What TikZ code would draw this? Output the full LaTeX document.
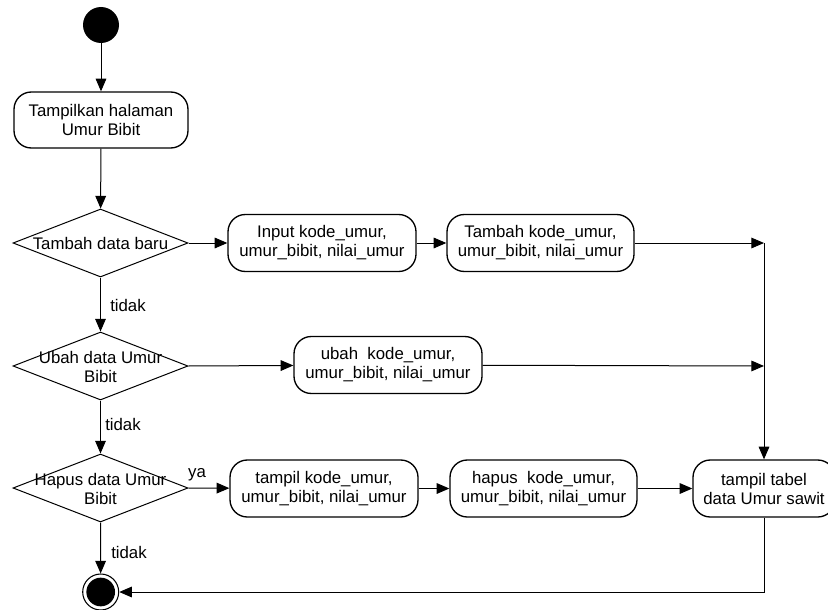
\documentclass[tikz,border=0pt]{standalone}
\usepackage{fontspec}
\setmainfont{Liberation Sans}
\usetikzlibrary{shapes.geometric,arrows.meta}
\begin{document}
\begin{tikzpicture}[x=0.75pt,y=-0.75pt,
  every node/.style={font=\fontsize{12.6pt}{14.25pt}\selectfont},
  actbox/.style={draw,line width=1pt,rounded corners=13pt,align=center,inner sep=0pt,minimum height=42.75pt},
  decision/.style={draw,diamond,line width=0.75pt,inner sep=0pt,minimum width=131.25pt,minimum height=51pt},
  arr/.style={line width=0.75pt,-{Triangle[length=9.5pt,width=8pt]}},
  lbl/.style={inner sep=0pt,align=center}]
\useasboundingbox (0,0) rectangle (828,610);
% start
\node[circle,fill=black,minimum size=27pt,inner sep=0pt] (s) at (101,25) {};
\node[actbox,minimum width=130.5pt,minimum height=42pt] (t) at (101,120) {Tampilkan halaman\\Umur Bibit};
% decisions
\node[decision] (d1) at (100.5,243) {};
\node[lbl] (d1t) at (100.5,243) {Tambah data baru};
\node[decision] (d2) at (100.5,366) {};
\node[lbl] (d2t) at (100.5,367) {Ubah data Umur\\Bibit};
\node[decision] (d3) at (100.5,488) {};
\node[lbl] (d3t) at (100.5,489) {Hapus data Umur\\Bibit};
% row 1
\node[actbox,minimum width=141pt] (in) at (322,243) {Input kode\_umur,\\umur\_bibit, nilai\_umur};
\node[actbox,minimum width=140.25pt] (tb) at (540.5,243) {Tambah kode\_umur,\\umur\_bibit, nilai\_umur};
% row 2
\node[actbox,minimum width=141pt] (ub) at (388,365) {ubah\ \ kode\_umur,\\umur\_bibit, nilai\_umur};
% row 3
\node[actbox,minimum width=141pt] (tk) at (324,488.5) {tampil kode\_umur,\\umur\_bibit, nilai\_umur};
\node[actbox,minimum width=140.25pt] (hp) at (543.5,488.5) {hapus\ \ kode\_umur,\\umur\_bibit, nilai\_umur};
\node[actbox,minimum width=106.5pt] (tt) at (764,488.5) {tampil tabel\\data Umur sawit};
% end
\node[circle,draw,line width=0.8pt,minimum size=27pt,inner sep=0pt] (e) at (100.7,592) {};
\node[circle,fill=black,minimum size=21.5pt,inner sep=0pt] (ei) at (e) {};
% junctions
\coordinate (j1) at (764,243);
\coordinate (j2) at (764,366);
% connectors
\draw[arr] (s) -- (t);
\draw[arr] (t) -- (d1);
\draw[arr] (d1.east) -- (in);
\draw[arr] (in) -- (tb);
\draw[arr] (tb) -- (j1);
\draw[arr] (j1) -- (tt.north);
\draw[arr] (d1.south) -- (d2.north);
\draw[arr] (d2.east) -- (ub);
\draw[arr] (ub) -- (j2);
\draw[arr] (d2.south) -- (d3.north);
\draw[arr] (d3.east) -- (tk);
\draw[arr] (tk) -- (hp);
\draw[arr] (hp) -- (tt);
\draw[arr] (d3.south) -- (e);
\draw[arr] (tt.south) |- (e);
% labels
\node[lbl] (l1) at (128,305) {tidak};
\node[lbl] (l2) at (123,424) {tidak};
\node[lbl] (l3) at (129,552) {tidak};
\node[lbl] (l4) at (197,475) {ya};
\end{tikzpicture}
\end{document}
